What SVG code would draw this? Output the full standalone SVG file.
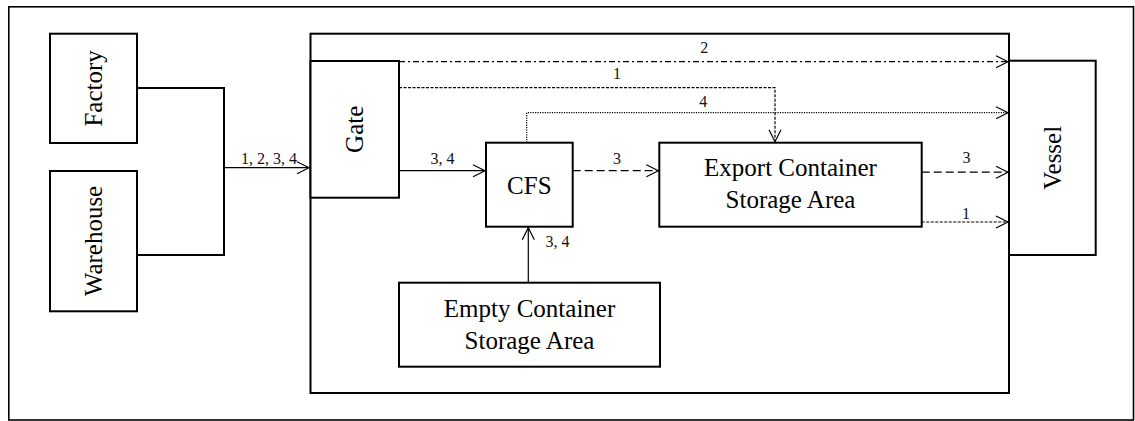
<svg xmlns="http://www.w3.org/2000/svg" width="1135" height="421" viewBox="0 0 1135 421">
  <defs>
    <marker id="arrow" markerUnits="userSpaceOnUse" markerWidth="14" markerHeight="14" refX="12" refY="6" orient="auto" overflow="visible">
      <path d="M0,0 L12,6 L0,12" fill="none" stroke="#000" stroke-width="1.2"/>
    </marker>
    <style>
      .box { fill: #fff; stroke: #000; stroke-width: 2; }
      .frame { fill: none; stroke: #000; stroke-width: 1.6; }
      text { font-family: 'Liberation Serif', 'DejaVu Serif', serif; }
      .label { font-size: 25px; fill: #000; text-anchor: middle; }
      .tag { font-size: 16px; fill: #111; text-anchor: middle; }
      .wire { fill: none; stroke: #000; stroke-width: 1.2; }
      .bracket { fill: none; stroke: #000; stroke-width: 2; }
      .dashdot { stroke-dasharray: 6 3 2 3; }
      .fine { stroke-dasharray: 3 1.5; }
      .dash { stroke-dasharray: 8 4; }
      .dot { stroke-dasharray: 1.2 1.2; }
    </style>
  </defs>

  <rect width="1135" height="421" fill="#fff"/>

  <!-- outer border -->
  <rect class="frame" x="8.8" y="6.8" width="1124.7" height="413.2"/>

  <!-- port terminal boundary -->
  <rect id="terminal" class="box" x="310.5" y="33.7" width="698.5" height="359.3" style="fill:none"/>

  <g id="factory">
    <rect class="box" x="50" y="33.7" width="87" height="109.3"/>
    <text class="label" transform="translate(93.5,88.4) rotate(-90)" dy="8.5">Factory</text>
  </g>

  <g id="warehouse">
    <rect class="box" x="50" y="171" width="87" height="140.3"/>
    <text class="label" transform="translate(93.5,241) rotate(-90)" dy="8.5">Warehouse</text>
  </g>

  <g id="gate">
    <rect class="box" x="310.5" y="61" width="88.5" height="136.7"/>
    <text class="label" transform="translate(354.7,129.3) rotate(-90)" dy="8">Gate</text>
  </g>

  <g id="cfs">
    <rect class="box" x="486" y="142.7" width="86.7" height="84"/>
    <text class="label" x="529.3" y="194">CFS</text>
  </g>

  <g id="export-storage">
    <rect class="box" x="659.3" y="142.7" width="262.4" height="84"/>
    <text class="label" x="790.5" y="176">Export Container</text>
    <text class="label" x="790.5" y="208">Storage Area</text>
  </g>

  <g id="empty-storage">
    <rect class="box" x="399" y="282.7" width="261" height="84"/>
    <text class="label" x="529.5" y="316.7">Empty Container</text>
    <text class="label" x="529.5" y="349">Storage Area</text>
  </g>

  <g id="vessel">
    <rect class="box" x="1009" y="60.7" width="86.7" height="194.3"/>
    <text class="label" transform="translate(1052.4,157.8) rotate(-90)" dy="8.5">Vessel</text>
  </g>

  <g id="connectors">
    <!-- origins merge into the gate -->
    <path class="bracket" d="M137,88 H224 V255 H137"/>
    <path class="wire" d="M224,167.7 H309" marker-end="url(#arrow)"/>
    <text class="tag" x="269" y="164">1, 2, 3, 4</text>

    <!-- flow 2: gate straight to vessel -->
    <path class="wire dashdot" d="M399,61.7 H1008" marker-end="url(#arrow)"/>
    <text class="tag" x="704.3" y="52.7">2</text>

    <!-- flow 1: gate to export storage -->
    <path class="wire fine" d="M399,87.7 H775 V141.7" marker-end="url(#arrow)"/>
    <text class="tag" x="617" y="79">1</text>

    <!-- flow 4: CFS to vessel -->
    <path class="wire dot" d="M526.7,142.7 V112.7 H1008" marker-end="url(#arrow)"/>
    <text class="tag" x="703.3" y="106.5">4</text>

    <!-- flows 3, 4: gate to CFS -->
    <path class="wire" d="M399,170.7 H485" marker-end="url(#arrow)"/>
    <text class="tag" x="442.5" y="164">3, 4</text>

    <!-- flow 3: CFS to export storage -->
    <path class="wire dash" d="M572.7,170.7 H658.3" marker-end="url(#arrow)"/>
    <text class="tag" x="617" y="164">3</text>

    <!-- export storage to vessel -->
    <path class="wire dash" d="M921.7,172.2 H1008" marker-end="url(#arrow)"/>
    <text class="tag" x="966.5" y="163.3">3</text>
    <path class="wire fine" d="M921.7,222 H1008" marker-end="url(#arrow)"/>
    <text class="tag" x="966" y="218.5">1</text>

    <!-- empty storage to CFS -->
    <path class="wire" d="M528.3,282.7 V227.7" marker-end="url(#arrow)"/>
    <text class="tag" x="557.5" y="246.7">3, 4</text>
  </g>
</svg>
